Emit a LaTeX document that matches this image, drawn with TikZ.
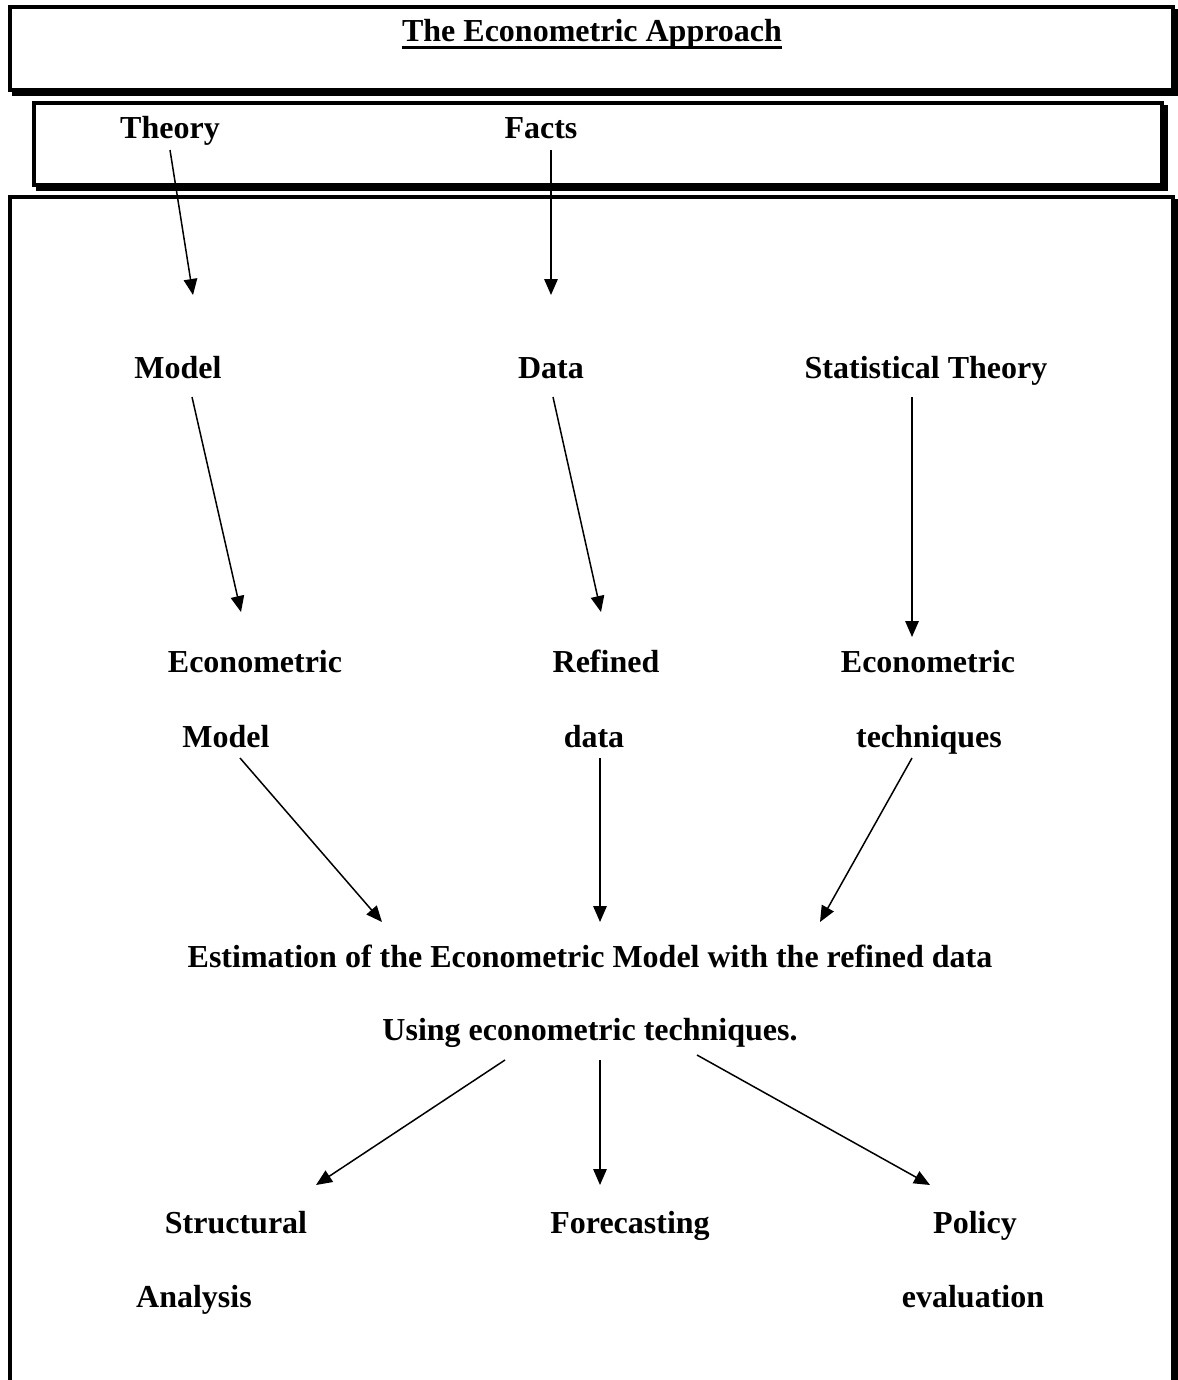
\documentclass[tikz,border=0pt]{standalone}
\usepackage{fontspec}
\setmainfont{Liberation Serif}
\usetikzlibrary{arrows.meta,positioning}

\tikzset{
    lbl/.style={font=\bfseries\fontsize{12.8}{15}\selectfont, inner sep=0pt, anchor=base},
    arr/.style={line width=0.6pt, -{Triangle[length=6.4pt,width=5.4pt]}},
    frame/.style={draw, line width=1.6pt, fill=white},
    shadowbox/.style={draw, line width=1.6pt, fill=black}
}

\begin{document}
\begin{tikzpicture}[x=0.4pt, y=-0.4pt]
    \useasboundingbox (0,0) rectangle (1178,1380);
    \clip (0,0) rectangle (1178,1380);
    % Boxes
    \draw [shadowbox] (13.5,201) rectangle (1177,1424); \draw [frame] (9.5,197) rectangle (1173,1420);
    \draw [shadowbox] (13.5,11) rectangle (1177,94); \draw [frame] (9.5,7) rectangle (1173,90);
    \draw [shadowbox] (38,107) rectangle (1166,189); \draw [frame] (34,103) rectangle (1162,185);
    % Title
    \node [lbl] (title) at (592,41) {The Econometric Approach};
    \draw [line width=1pt] ([yshift=-2.6pt]title.base west) -- ([yshift=-2.6pt]title.base east);
    % Inputs
    \node [lbl] (theory) at (170,138) {Theory};
    \node [lbl] (facts) at (541,138) {Facts};
    \node [lbl] (model) at (178,378) {Model};
    \node [lbl] (data) at (551,378) {Data};
    \node [lbl] (stat) at (926,378) {Statistical Theory};
    % Second level
    \node [lbl] (emodA) at (255,672) {Econometric};
    \node [lbl] (emodB) at (226,747) {Model};
    \node [lbl] (refA) at (606,672) {Refined};
    \node [lbl] (refB) at (594,747) {data};
    \node [lbl] (techA) at (928,672) {Econometric};
    \node [lbl] (techB) at (929,747) {techniques};
    % Estimation
    \node [lbl] (est) at (590,967) {Estimation of the Econometric Model with the refined data};
    \node [lbl] (using) at (590,1040) {Using econometric techniques.};
    % Uses
    \node [lbl] (strA) at (236,1233) {Structural};
    \node [lbl] (strB) at (194,1307) {Analysis};
    \node [lbl] (fore) at (630,1233) {Forecasting};
    \node [lbl] (polA) at (975,1233) {Policy};
    \node [lbl] (polB) at (973,1307) {evaluation};
    % Arrow ends
    \coordinate (theory-out) at (170,150); \coordinate (model-in) at (193,295);
    \coordinate (facts-out) at (551,150); \coordinate (data-in) at (551,295);
    \coordinate (model-out) at (192,397); \coordinate (emod-in) at (241,612);
    \coordinate (data-out) at (553,397); \coordinate (ref-in) at (601,612);
    \coordinate (stat-out) at (912,397); \coordinate (tech-in) at (912,637);
    \coordinate (emod-out) at (240,758); \coordinate (est-inA) at (382,922);
    \coordinate (ref-out) at (600,758); \coordinate (est-inB) at (600,922);
    \coordinate (tech-out) at (912,758); \coordinate (est-inC) at (820,922);
    \coordinate (using-outA) at (505,1060); \coordinate (str-in) at (316,1185);
    \coordinate (using-outB) at (600,1060); \coordinate (fore-in) at (600,1185);
    \coordinate (using-outC) at (697,1055); \coordinate (pol-in) at (930,1185);
    % Arrows
    \draw [arr] (theory-out) -- (model-in);
    \draw [arr] (facts-out) -- (data-in);
    \draw [arr] (model-out) -- (emod-in);
    \draw [arr] (data-out) -- (ref-in);
    \draw [arr] (stat-out) -- (tech-in);
    \draw [arr] (emod-out) -- (est-inA);
    \draw [arr] (ref-out) -- (est-inB);
    \draw [arr] (tech-out) -- (est-inC);
    \draw [arr] (using-outA) -- (str-in);
    \draw [arr] (using-outB) -- (fore-in);
    \draw [arr] (using-outC) -- (pol-in);
\end{tikzpicture}
\end{document}
